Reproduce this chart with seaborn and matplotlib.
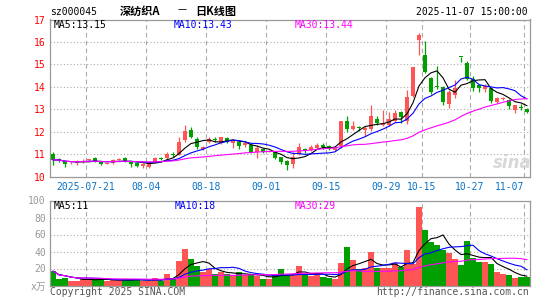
import matplotlib
matplotlib.use("Agg")
import matplotlib.pyplot as plt
import numpy as np
import pandas as pd
import seaborn as sns

# daily OHLC, 2025-07-11 .. 2025-11-07 (80 trading days)
opens = [11.02, 10.76, 10.70, 10.60, 10.62, 10.67, 10.74, 10.84, 10.70, 10.57,
         10.59, 10.76, 10.84, 10.70, 10.60, 10.46, 10.44, 10.66, 10.82, 10.84,
         11.00, 10.98, 11.62, 12.08, 11.68, 11.25, 11.55, 11.68, 11.52, 11.72,
         11.52, 11.53, 11.39, 11.40, 11.10, 11.22, 11.12, 11.10, 10.87, 10.72,
         10.58, 10.99, 11.24, 11.20, 11.29, 11.42, 11.36, 11.20, 11.38, 12.46,
         12.12, 12.20, 12.10, 12.12, 12.58, 12.30, 12.30, 12.50, 12.88, 12.50,
         13.60, 16.10, 15.40, 14.40, 14.02, 13.98, 13.25, 13.64, 15.35, 15.05,
         14.33, 14.07, 13.90, 13.95, 13.33, 13.45, 13.42, 12.98, 13.10, 13.02]
closes = [10.75, 10.74, 10.58, 10.62, 10.65, 10.71, 10.76, 10.70, 10.58, 10.60,
          10.75, 10.79, 10.70, 10.58, 10.49, 10.58, 10.57, 10.82, 10.78, 11.03,
          10.97, 11.55, 12.05, 11.78, 11.33, 11.33, 11.70, 11.63, 11.75, 11.57,
          11.57, 11.38, 11.50, 11.10, 11.27, 11.12, 11.14, 10.83, 10.64, 10.52,
          10.88, 11.31, 11.13, 11.32, 11.41, 11.32, 11.25, 11.30, 12.46, 12.12,
          12.25, 12.17, 12.17, 12.70, 12.37, 12.40, 12.55, 12.83, 12.66, 13.55,
          14.87, 16.30, 14.65, 13.76, 13.98, 13.33, 13.76, 13.97, 15.33, 14.35,
          13.96, 13.93, 14.03, 13.35, 13.52, 13.49, 13.16, 13.18, 13.08, 12.90]
highs = [11.10, 10.84, 10.72, 10.65, 10.75, 10.80, 10.80, 10.86, 10.72, 10.62,
         10.78, 10.85, 10.86, 10.72, 10.64, 10.62, 10.60, 10.86, 10.86, 11.10,
         11.08, 11.78, 12.28, 12.22, 11.76, 11.36, 11.78, 11.75, 11.78, 11.76,
         11.60, 11.56, 11.56, 11.45, 11.39, 11.26, 11.18, 11.12, 10.89, 10.74,
         11.10, 11.48, 11.30, 11.40, 11.48, 11.48, 11.42, 11.33, 12.50, 12.72,
         12.50, 12.26, 12.24, 13.18, 12.70, 12.96, 12.88, 12.95, 12.92, 13.85,
         14.90, 16.42, 16.05, 14.42, 14.95, 14.02, 13.85, 14.30, 15.35, 15.16,
         14.47, 14.10, 14.12, 13.97, 13.55, 13.55, 13.45, 13.20, 13.22, 13.04]
lows = [10.53, 10.66, 10.44, 10.56, 10.54, 10.60, 10.70, 10.64, 10.52, 10.55,
        10.55, 10.73, 10.64, 10.44, 10.45, 10.40, 10.38, 10.62, 10.74, 10.80,
        10.86, 10.95, 11.55, 11.72, 11.25, 11.20, 11.50, 11.55, 11.45, 11.52,
        11.27, 11.24, 11.33, 11.05, 10.83, 11.05, 11.08, 10.80, 10.58, 10.32,
        10.38, 10.96, 11.05, 11.16, 11.25, 11.22, 11.20, 11.14, 11.30, 12.00,
        12.06, 12.05, 11.80, 12.05, 12.30, 12.26, 12.25, 12.45, 12.40, 12.33,
        13.55, 15.40, 14.60, 13.70, 13.90, 13.18, 13.05, 13.52, 15.12, 14.30,
        13.80, 13.75, 13.78, 13.30, 13.30, 13.40, 13.00, 12.84, 12.97, 12.84]
# volume in 10k lots
volumes = [16.9, 8.2, 9.4, 5.1, 5.1, 8.2, 8.2, 7.1, 7.1, 5.1,
           6.3, 6.3, 7.1, 7.1, 7.1, 5.1, 5.1, 9.4, 5.1, 14.1,
           7.1, 28.6, 43.5, 30.6, 22.7, 15.3, 19.6, 13.0, 16.1, 13.0,
           12.2, 15.3, 12.2, 12.2, 11.4, 8.2, 7.1, 12.2, 20.0, 12.2,
           12.2, 23.0, 12.0, 10.8, 12.5, 9.8, 8.6, 7.8, 26.3, 45.0,
           29.8, 19.2, 20.4, 39.6, 20.4, 20.4, 20.4, 25.9, 21.2, 41.6,
           25.5, 92.0, 65.0, 51.4, 47.4, 41.6, 38.0, 30.6, 24.3, 52.0,
           32.0, 27.8, 27.8, 25.5, 16.1, 14.0, 12.5, 8.5, 10.5, 9.5]

tick_index = [6, 16, 26, 36, 46, 56, 62, 70, 79]
tick_labels = ["2025-07-21", "08-04", "08-18", "09-01", "09-15",
               "09-29", "10-15", "10-27", "11-07"]

price_legend = ["MA5:13.15", "MA10:13.43", "MA30:13.44"]
vol_legend = ["MA5:11", "MA10:18", "MA30:29"]

RED = "#ff5555"
GREEN = "#00a000"
GRID = "#aaaaaa"
ma_colors = ["black", "#0000ff", "#ff00ff"]
windows = [5, 10, 30]

sns.set_theme(style="white")
plt.rcParams["font.family"] = ["DejaVu Sans Mono", "Noto Sans CJK SC"]

df = pd.DataFrame({"open": opens, "close": closes, "high": highs,
                   "low": lows, "vol": volumes})
df["x"] = np.arange(len(df))
up = df["close"] >= df["open"]
colors = np.where(up, RED, GREEN)

W, H = 545, 300
fig = plt.figure(figsize=(W / 100, H / 100), dpi=100)
ax = fig.add_axes([50 / W, 1 - 176.7 / H, 480 / W, (176.7 - 19.5) / H])
axv = fig.add_axes([50 / W, 1 - 285.5 / H, 480 / W, (285.5 - 200.5) / H])

# candles
ax.vlines(df["x"], df["low"], df["high"], colors=colors, linewidth=0.9, zorder=3)
body = (df["close"] - df["open"]).abs().clip(lower=0.03)
ax.bar(df["x"], body, bottom=df[["open", "close"]].min(axis=1), width=0.82,
       color=colors, linewidth=0, zorder=3)

# volume bars
axv.bar(df["x"], df["vol"], width=0.84, color=colors, linewidth=0, zorder=2)

for w, c in zip(windows, ma_colors):
    sns.lineplot(x=df["x"], y=df["close"].rolling(w, min_periods=1).mean(),
                 ax=ax, color=c, linewidth=0.8, zorder=4)
    sns.lineplot(x=df["x"], y=df["vol"].rolling(w, min_periods=1).mean(),
                 ax=axv, color=c, linewidth=0.8, zorder=4)

grid_x = [i - 0.5 for i in tick_index]
for a in (ax, axv):
    a.set_xlim(-0.5, len(df) - 0.5)
    a.set_xlabel("")
    a.set_ylabel("")
    for gx in grid_x:
        a.axvline(gx, color=GRID, linestyle=(0, (4, 3)), linewidth=0.8, zorder=1)
    for s in a.spines.values():
        s.set_color("#999999")
        s.set_linewidth(0.9)
    a.tick_params(length=0, pad=3, labelsize=7)

ax.set_ylim(10, 17)
ax.set_yticks(range(10, 18))
ax.set_yticklabels([str(v) for v in range(10, 18)], color="#ff0000")
for v in range(11, 17):
    ax.axhline(v, color=GRID, linestyle=(0, (1, 2)), linewidth=0.8, zorder=1)
ax.set_xticks(grid_x)
ax.set_xticklabels(tick_labels, color="#0a74c8")
ax.tick_params(axis="x", pad=4)
last = ax.get_xticklabels()[-1]
last.set_ha("right")

axv.set_ylim(0, 100)
axv.set_yticks([0, 20, 40, 60, 80, 100])
axv.set_yticklabels(["x万", "20", "40", "60", "80", "100"], color="#999999")
for v in [20, 40, 60, 80]:
    axv.axhline(v, color=GRID, linestyle=(0, (1, 2)), linewidth=0.8, zorder=1)
axv.set_xticks([])

# legends
for txt, c, px in zip(price_legend, ma_colors, [54, 174, 295]):
    fig.text(px / W, 1 - 24.5 / H, txt, color=c, fontsize=7, va="center")
for txt, c, px in zip(vol_legend, ma_colors, [54, 175, 295]):
    fig.text(px / W, 1 - 206 / H, txt, color=c, fontsize=7, va="center")

# header / footer
fig.text(50 / W, 1 - 12 / H, "sz000045", fontsize=7, va="center", color="black")
fig.text(120 / W, 1 - 11 / H, "深纺织A", fontsize=8, va="center", color="black",
         family=["Noto Sans CJK SC"], fontweight="bold")
fig.text(177 / W, 1 - 11 / H, "－", fontsize=8, va="center", color="black",
         family=["Noto Sans CJK SC"])
fig.text(195 / W, 1 - 11 / H, "日K线图", fontsize=8, va="center", color="black",
         family=["Noto Sans CJK SC"], fontweight="bold")
fig.text(528 / W, 1 - 12 / H, "2025-11-07 15:00:00", fontsize=7, va="center",
         ha="right", color="black")
fig.text(50 / W, 1 - 292 / H, "Copyright 2025 SINA.COM", fontsize=7,
         va="center", color="#555555")
fig.text(529 / W, 1 - 292 / H, "http://finance.sina.com.cn", fontsize=7,
         va="center", ha="right", color="#555555")
fig.text(512 / W, 1 - 163 / H, "sina", fontsize=12, va="center", ha="center",
         color="#d8d8d8", style="italic", fontweight="bold",
         family=["DejaVu Sans"])

fig.savefig("out.png", dpi=100)
